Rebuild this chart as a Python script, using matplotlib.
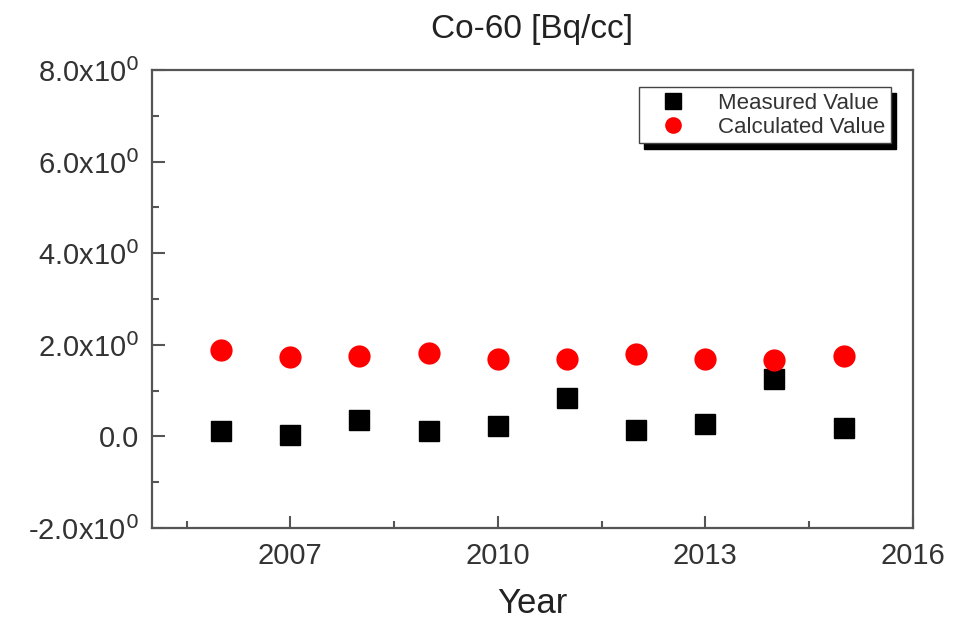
import matplotlib.pyplot as plt
from matplotlib.ticker import MultipleLocator, FixedLocator

plt.rcParams['font.family'] = ['Liberation Sans', 'DejaVu Sans']

years = [2006, 2007, 2008, 2009, 2010, 2011, 2012, 2013, 2014, 2015]
measured = [0.12, 0.02, 0.36, 0.12, 0.22, 0.84, 0.15, 0.26, 1.25, 0.19]
calculated = [1.88, 1.73, 1.75, 1.83, 1.70, 1.70, 1.79, 1.68, 1.66, 1.75]

y_ticks = [-2, 0, 2, 4, 6, 8]
y_labels = [r'-2.0x10$^{0}$', '0.0', r'2.0x10$^{0}$', r'4.0x10$^{0}$',
            r'6.0x10$^{0}$', r'8.0x10$^{0}$']
x_ticks = [2007, 2010, 2013, 2016]

fig = plt.figure(figsize=(9.58, 6.23), dpi=100)
ax = fig.add_axes([0.1587, 0.1525, 0.794, 0.7351])

ax.plot(years, measured, 's', color='black', markersize=15, label='Measured Value')
ax.plot(years, calculated, 'o', color='red', markersize=16, markeredgewidth=0,
        label='Calculated Value')

ax.set_xlim(2005, 2016)
ax.set_ylim(-2, 8)
ax.xaxis.set_major_locator(FixedLocator(x_ticks))
ax.xaxis.set_minor_locator(MultipleLocator(1.5))
ax.yaxis.set_major_locator(FixedLocator(y_ticks))
ax.yaxis.set_minor_locator(MultipleLocator(1))
ax.set_yticks(y_ticks, y_labels)

ax.tick_params(which='both', direction='in', colors='#555555', width=1.5,
               labelcolor='#333333', labelsize=21)
ax.tick_params(which='major', length=9)
ax.tick_params(which='minor', length=5)
ax.tick_params(axis='x', pad=10)
ax.tick_params(axis='y', pad=9)

for s in ax.spines.values():
    s.set_color('#555555')
    s.set_linewidth(1.6)

ax.set_title('Co-60 [Bq/cc]', fontsize=24, color='#222222', pad=23)
ax.set_xlabel('Year', fontsize=25, color='#222222', labelpad=12)

leg = ax.legend(loc='upper right', bbox_to_anchor=(0.971, 0.963), fontsize=16,
                frameon=True, fancybox=False, edgecolor='#444444',
                shadow={'color': 'black', 'alpha': 1.0, 'ox': 4, 'oy': -4},
                handlelength=2.6, handletextpad=0.7, borderpad=0.25,
                labelspacing=0.15, markerscale=0.75, borderaxespad=0)
leg.get_frame().set_linewidth(1.0)
for t in leg.get_texts():
    t.set_color('#333333')

fig.savefig('out.png', dpi=100)
